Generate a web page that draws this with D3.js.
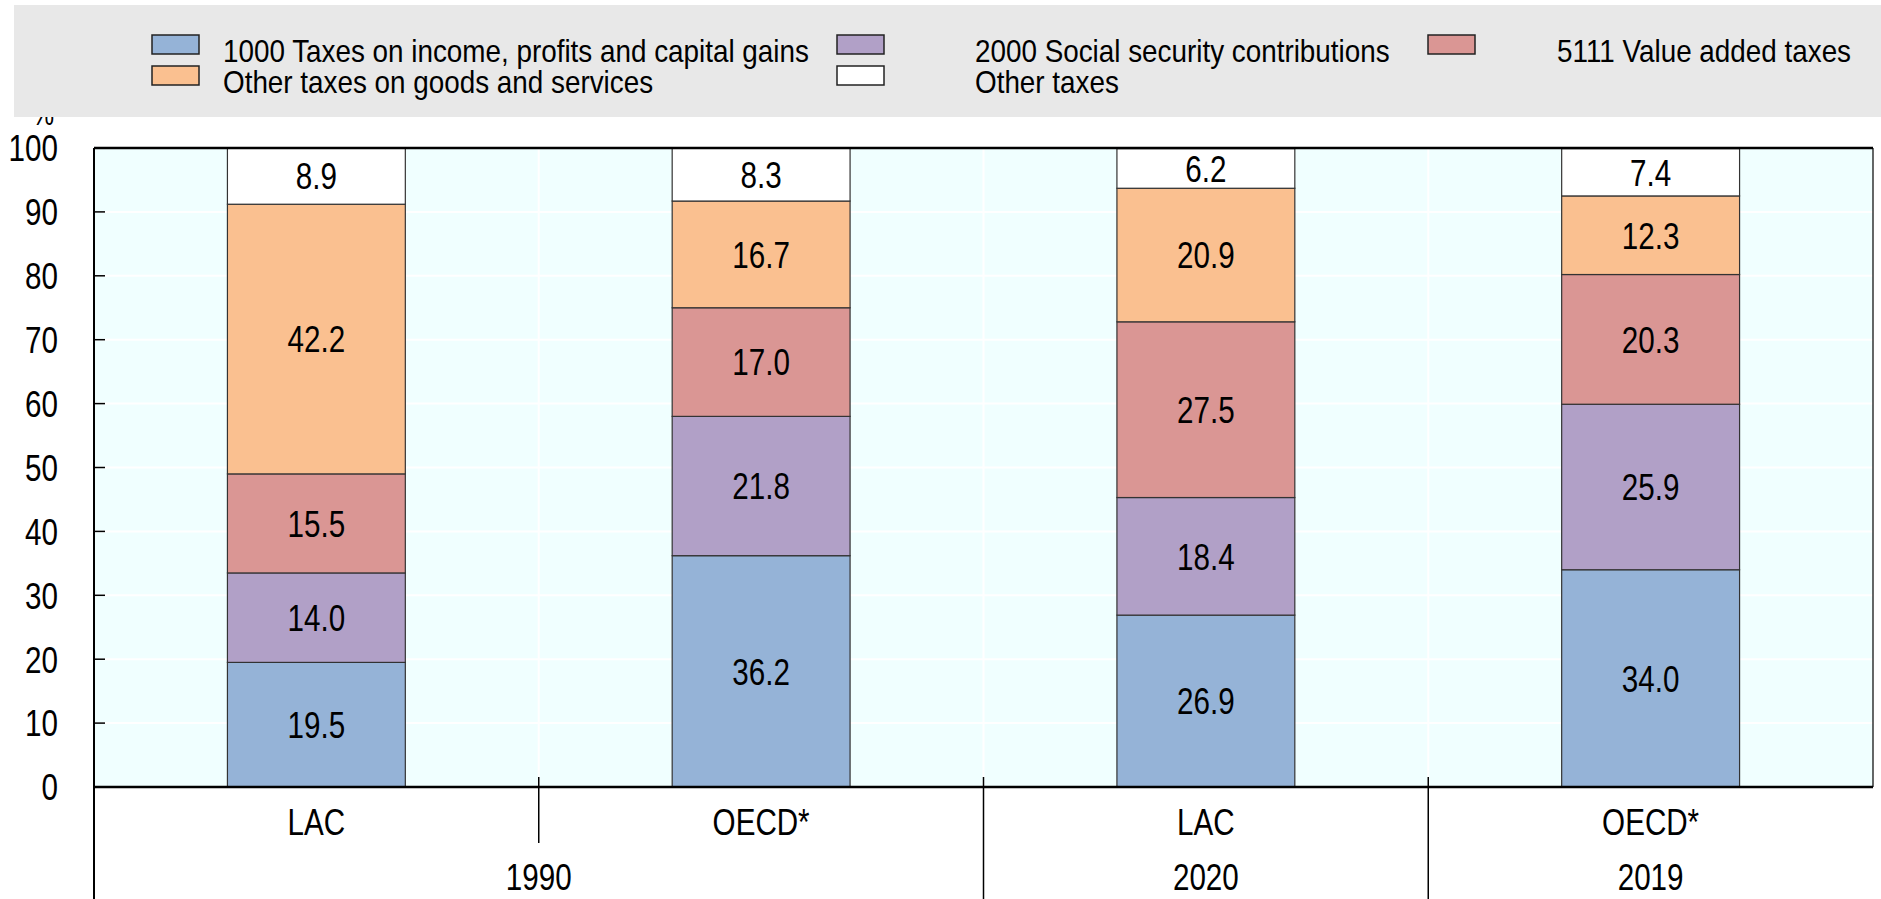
<!DOCTYPE html>
<html>
<head>
<meta charset="utf-8">
<script src="https://cdn.jsdelivr.net/npm/d3@7"></script>
<style>
  html, body { margin: 0; padding: 0; background: #fff; }
  svg { display: block; }
  text { font-family: 'Liberation Sans', Arial, sans-serif; fill: #000; }
</style>
</head>
<body>
<svg id="chart"></svg>
<script>
const groups = ['LAC', 'OECD*', 'LAC', 'OECD*'];
const years = ['1990', '1990', '2020', '2019'];
const seriesNames = [
  '1000 Taxes on income, profits and capital gains',
  '2000 Social security contributions',
  '5111 Value added taxes',
  'Other taxes on goods and services',
  'Other taxes'
];
const seriesColors = ['#95b3d7', '#b1a0c7', '#da9694', '#fac090', '#ffffff'];
const incomeTaxes = [19.5, 36.2, 26.9, 34.0];
const socialSecurity = [14.0, 21.8, 18.4, 25.9];
const valueAdded = [15.5, 17.0, 27.5, 20.3];
const otherGoods = [42.2, 16.7, 20.9, 12.3];
const otherTaxes = [8.9, 8.3, 6.2, 7.4];
const yTicks = [0, 10, 20, 30, 40, 50, 60, 70, 80, 90, 100];

const config = {
  width: 1881,
  height: 899,
  plot: { left: 94, right: 1873, top: 148, bottom: 787 },
  fontSize: 37,
  narrow: 0.8
};

createChart('chart', config);

function createChart(id, config) {
  config.svg = d3.select(`#${id}`)
    .attr('width', config.width)
    .attr('height', config.height);
  setScales(config);
  buildStack(config);
  drawPlotBackground(config);
  drawPercentLabel(config);
  drawLegend(config);
  drawBars(config);
  drawAxes(config);
}

// no narrow font installed, so squeeze text horizontally around its anchor
function squeeze(selection, factor) {
  selection.each(function() {
    const t = d3.select(this);
    const x = +t.attr('x') || 0;
    const y = +t.attr('y') || 0;
    t.attr('x', 0)
      .attr('y', 0)
      .attr('transform', `translate(${x},${y}) scale(${factor},1)`);
  });
}

function setScales(config) {
  config.keys = groups.map((g, i) => `${g}|${years[i]}`);
  config.x = d3.scaleBand()
    .domain(config.keys)
    .range([config.plot.left, config.plot.right])
    .paddingInner(0.6)
    .paddingOuter(0.3);
  config.y = d3.scaleLinear()
    .domain([0, 100])
    .range([config.plot.bottom, config.plot.top]);
}

function buildStack(config) {
  const columns = [incomeTaxes, socialSecurity, valueAdded, otherGoods, otherTaxes];
  const rows = config.keys.map((k, i) => {
    const row = { key: k };
    seriesNames.forEach((s, j) => { row[s] = columns[j][i]; });
    return row;
  });
  config.stacked = d3.stack().keys(seriesNames)(rows);
}

function drawPlotBackground(config) {
  const p = config.plot;
  const g = config.svg.append('g');
  g.append('rect')
    .attr('x', p.left)
    .attr('y', p.top)
    .attr('width', p.right - p.left)
    .attr('height', p.bottom - p.top)
    .attr('fill', '#f0ffff');

  g.selectAll('.grid')
    .data(yTicks.slice(1, -1))
    .enter()
    .append('line')
    .attr('x1', p.left)
    .attr('x2', p.right)
    .attr('y1', d => config.y(d))
    .attr('y2', d => config.y(d))
    .attr('stroke', '#ffffff')
    .attr('stroke-width', 2);

  const step = config.x.step();
  g.selectAll('.vgrid')
    .data(d3.range(1, config.keys.length))
    .enter()
    .append('line')
    .attr('x1', i => p.left + i * step)
    .attr('x2', i => p.left + i * step)
    .attr('y1', p.top)
    .attr('y2', p.bottom)
    .attr('stroke', '#ffffff')
    .attr('stroke-width', 2);
}

function drawPercentLabel(config) {
  config.svg.append('text')
    .attr('x', 43)
    .attr('y', 125)
    .attr('text-anchor', 'middle')
    .style('font-size', '31px')
    .text('%')
    .call(squeeze, config.narrow);
}

function drawLegend(config) {
  const lg = config.svg.append('g');
  lg.append('rect')
    .attr('x', 14)
    .attr('y', 5)
    .attr('width', config.width - 14)
    .attr('height', 112)
    .attr('fill', '#e8e8e8');

  // legend order: row-major over 3 columns
  const order = [0, 1, 2, 3, 4];
  const swatchX = [152, 837, 1428];
  const textX = [223, 975, 1557];
  order.forEach((s, i) => {
    const col = i % 3;
    const row = Math.floor(i / 3);
    const item = lg.append('g');
    item.append('rect')
      .attr('x', swatchX[col])
      .attr('y', 35 + row * 31)
      .attr('width', 47)
      .attr('height', 19)
      .attr('fill', seriesColors[s])
      .attr('stroke', '#222')
      .attr('stroke-width', 1.5);
    item.append('text')
      .attr('x', textX[col])
      .attr('y', 62 + row * 31)
      .style('font-size', '32px')
      .text(seriesNames[s])
      .call(squeeze, 0.87);
  });
}

function drawBars(config) {
  const layers = config.svg.append('g')
    .selectAll('.layer')
    .data(config.stacked)
    .enter()
    .append('g')
    .attr('class', 'layer')
    .attr('fill', (d, i) => seriesColors[i]);

  layers.selectAll('rect')
    .data(d => d)
    .enter()
    .append('rect')
    .attr('x', d => config.x(d.data.key))
    .attr('width', config.x.bandwidth())
    .attr('y', d => config.y(Math.min(d[1], 100)))
    .attr('height', d => config.y(d[0]) - config.y(Math.min(d[1], 100)))
    .attr('stroke', '#333')
    .attr('stroke-width', 1.2);

  layers.selectAll('text')
    .data(d => d)
    .enter()
    .append('text')
    .attr('x', d => config.x(d.data.key) + config.x.bandwidth() / 2)
    .attr('y', d => config.y((d[0] + Math.min(d[1], 100)) / 2))
    .attr('dy', '0.36em')
    .attr('text-anchor', 'middle')
    .style('font-size', `${config.fontSize}px`)
    .text(d => d3.format('.1f')(d[1] - d[0]))
    .call(squeeze, config.narrow);
}

function drawAxes(config) {
  const p = config.plot;
  const g = config.svg.append('g');

  // y tick labels and inner ticks
  g.selectAll('.ytick')
    .data(yTicks)
    .enter()
    .append('text')
    .attr('x', 58)
    .attr('y', d => config.y(d))
    .attr('dy', '0.36em')
    .attr('text-anchor', 'end')
    .style('font-size', `${config.fontSize}px`)
    .text(d => d)
    .call(squeeze, config.narrow);

  g.selectAll('.ytickmark')
    .data(yTicks.slice(1, -1))
    .enter()
    .append('line')
    .attr('x1', p.left)
    .attr('x2', p.left + 11)
    .attr('y1', d => config.y(d))
    .attr('y2', d => config.y(d))
    .attr('stroke', '#000')
    .attr('stroke-width', 1.5);

  // frame
  g.append('line')
    .attr('x1', p.left).attr('x2', p.right)
    .attr('y1', p.top).attr('y2', p.top)
    .attr('stroke', '#000').attr('stroke-width', 2.5);
  g.append('line')
    .attr('x1', p.right).attr('x2', p.right)
    .attr('y1', p.top).attr('y2', p.bottom)
    .attr('stroke', '#000').attr('stroke-width', 1.2);
  g.append('line')
    .attr('x1', p.left).attr('x2', p.left)
    .attr('y1', p.top).attr('y2', config.height)
    .attr('stroke', '#000').attr('stroke-width', 2);
  g.append('line')
    .attr('x1', p.left).attr('x2', p.right)
    .attr('y1', p.bottom).attr('y2', p.bottom)
    .attr('stroke', '#000').attr('stroke-width', 2.5);

  // separators below axis
  const step = config.x.step();
  const seps = d3.range(1, config.keys.length).map(i => ({
    x: p.left + i * step,
    long: years[i] !== years[i - 1]
  }));
  g.selectAll('.sep')
    .data(seps)
    .enter()
    .append('line')
    .attr('x1', d => d.x)
    .attr('x2', d => d.x)
    .attr('y1', p.bottom - 10)
    .attr('y2', d => d.long ? config.height : 843)
    .attr('stroke', '#000')
    .attr('stroke-width', 1.5);

  // category labels
  g.selectAll('.cat')
    .data(config.keys)
    .enter()
    .append('text')
    .attr('x', d => config.x(d) + config.x.bandwidth() / 2)
    .attr('y', 835)
    .attr('text-anchor', 'middle')
    .style('font-size', `${config.fontSize}px`)
    .text((d, i) => groups[i])
    .call(squeeze, config.narrow);

  // year labels, centered over their group
  const yearGroups = d3.groups(config.keys.map((k, i) => ({ k, year: years[i] })), d => d.year);
  g.selectAll('.year')
    .data(yearGroups)
    .enter()
    .append('text')
    .attr('x', ([, items]) => {
      const x0 = config.x(items[0].k) - config.x.step() * config.x.paddingInner() / 2;
      const last = items[items.length - 1].k;
      const x1 = config.x(last) + config.x.bandwidth() + config.x.step() * config.x.paddingInner() / 2;
      return (x0 + x1) / 2;
    })
    .attr('y', 890)
    .attr('text-anchor', 'middle')
    .style('font-size', `${config.fontSize}px`)
    .text(([year]) => year)
    .call(squeeze, config.narrow);
}
</script>
</body>
</html>
